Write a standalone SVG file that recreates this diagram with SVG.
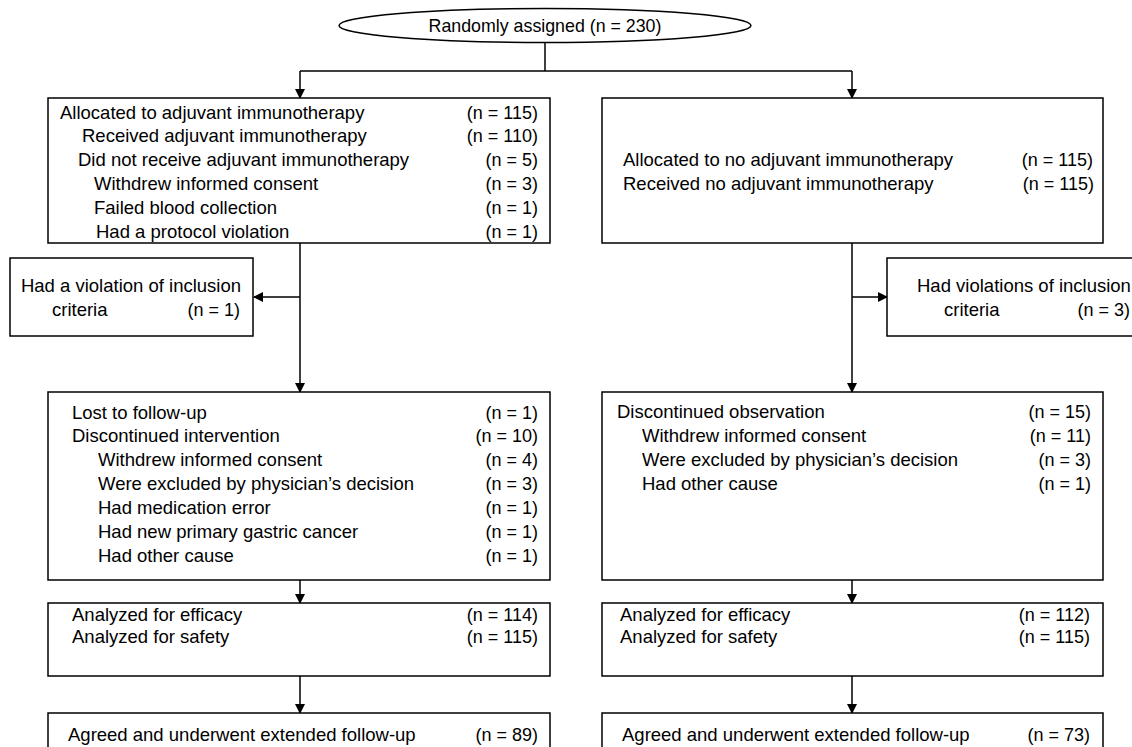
<svg xmlns="http://www.w3.org/2000/svg" width="1132" height="747" viewBox="0 0 1132 747">
<style>
.b{fill:#fff;stroke:#000;stroke-width:1.5}
.c{fill:none;stroke:#000;stroke-width:1.5}
text{font-family:"Liberation Sans",Arial,sans-serif;font-size:18.5px;fill:#000}
.r{text-anchor:end;font-size:18px}
.m{text-anchor:middle}
.e{font-size:17.8px}
</style>
<defs>
<marker id="ah" markerWidth="10" markerHeight="10" refX="9" refY="5" orient="auto" markerUnits="userSpaceOnUse">
<path d="M0,0 L10,5 L0,10 z" fill="#000"/>
</marker>
</defs>
<rect width="1132" height="747" fill="#fff"/>
<g id="connectors">
<line class="c" x1="545" y1="42" x2="545" y2="71"/>
<line class="c" x1="300" y1="71" x2="852" y2="71"/>
<line class="c" x1="300" y1="71" x2="300" y2="98" marker-end="url(#ah)"/>
<line class="c" x1="852" y1="71" x2="852" y2="98" marker-end="url(#ah)"/>
<line class="c" x1="300" y1="243" x2="300" y2="392" marker-end="url(#ah)"/>
<line class="c" x1="300" y1="297" x2="254" y2="297" marker-end="url(#ah)"/>
<line class="c" x1="852" y1="243" x2="852" y2="392" marker-end="url(#ah)"/>
<line class="c" x1="852" y1="297" x2="887" y2="297" marker-end="url(#ah)"/>
<line class="c" x1="300" y1="580" x2="300" y2="603" marker-end="url(#ah)"/>
<line class="c" x1="852" y1="580" x2="852" y2="603" marker-end="url(#ah)"/>
<line class="c" x1="300" y1="676" x2="300" y2="713" marker-end="url(#ah)"/>
<line class="c" x1="852" y1="676" x2="852" y2="713" marker-end="url(#ah)"/>
</g>
<g id="randomized">
<ellipse class="b" cx="545" cy="25.5" rx="206" ry="17"/>
<text class="m e" x="545" y="32">Randomly assigned (n = 230)</text>
</g>
<g id="left-allocation">
<rect class="b" x="48" y="98" width="502" height="145"/>
<text x="60" y="119">Allocated to adjuvant immunotherapy</text><text class="r" x="538" y="119">(n = 115)</text>
<text x="82" y="142">Received adjuvant immunotherapy</text><text class="r" x="538" y="142">(n = 110)</text>
<text x="78" y="166">Did not receive adjuvant immunotherapy</text><text class="r" x="538" y="166">(n = 5)</text>
<text x="94" y="190">Withdrew informed consent</text><text class="r" x="538" y="190">(n = 3)</text>
<text x="94" y="214">Failed blood collection</text><text class="r" x="538" y="214">(n = 1)</text>
<text x="96" y="238">Had a protocol violation</text><text class="r" x="538" y="238">(n = 1)</text>
</g>
<g id="right-allocation">
<rect class="b" x="602" y="98" width="501" height="145"/>
<text x="623" y="166">Allocated to no adjuvant immunotherapy</text><text class="r" x="1093" y="166">(n = 115)</text>
<text x="623" y="190">Received no adjuvant immunotherapy</text><text class="r" x="1094" y="190">(n = 115)</text>
</g>
<g id="left-exclusion">
<rect class="b" x="10" y="258" width="243" height="78"/>
<text class="m" x="131" y="292">Had a violation of inclusion</text>
<text x="52" y="316">criteria</text><text class="r" x="240" y="316">(n = 1)</text>
</g>
<g id="right-exclusion">
<rect class="b" x="887" y="258" width="260" height="78"/>
<text x="917" y="292">Had violations of inclusion</text>
<text x="944" y="316">criteria</text><text class="r" x="1130" y="316">(n = 3)</text>
</g>
<g id="left-followup">
<rect class="b" x="48" y="392" width="502" height="188"/>
<text x="72" y="419">Lost to follow-up</text><text class="r" x="538" y="419">(n = 1)</text>
<text x="72" y="442">Discontinued intervention</text><text class="r" x="538" y="442">(n = 10)</text>
<text x="98" y="466">Withdrew informed consent</text><text class="r" x="538" y="466">(n = 4)</text>
<text x="98" y="490">Were excluded by physician’s decision</text><text class="r" x="538" y="490">(n = 3)</text>
<text x="98" y="514">Had medication error</text><text class="r" x="538" y="514">(n = 1)</text>
<text x="98" y="538">Had new primary gastric cancer</text><text class="r" x="538" y="538">(n = 1)</text>
<text x="98" y="562">Had other cause</text><text class="r" x="538" y="562">(n = 1)</text>
</g>
<g id="right-followup">
<rect class="b" x="602" y="392" width="501" height="188"/>
<text x="617" y="418">Discontinued observation</text><text class="r" x="1091" y="418">(n = 15)</text>
<text x="642" y="442">Withdrew informed consent</text><text class="r" x="1091" y="442">(n = 11)</text>
<text x="642" y="466">Were excluded by physician’s decision</text><text class="r" x="1091" y="466">(n = 3)</text>
<text x="642" y="490">Had other cause</text><text class="r" x="1091" y="490">(n = 1)</text>
</g>
<g id="left-analysis">
<rect class="b" x="48" y="603" width="502" height="73"/>
<text x="72" y="621">Analyzed for efficacy</text><text class="r" x="538" y="621">(n = 114)</text>
<text x="72" y="643">Analyzed for safety</text><text class="r" x="538" y="643">(n = 115)</text>
</g>
<g id="right-analysis">
<rect class="b" x="602" y="603" width="501" height="73"/>
<text x="620" y="621">Analyzed for efficacy</text><text class="r" x="1090" y="621">(n = 112)</text>
<text x="620" y="643">Analyzed for safety</text><text class="r" x="1090" y="643">(n = 115)</text>
</g>
<g id="left-extended">
<rect class="b" x="48" y="713" width="502" height="60"/>
<text x="68" y="741">Agreed and underwent extended follow-up</text><text class="r" x="538" y="741">(n = 89)</text>
</g>
<g id="right-extended">
<rect class="b" x="602" y="713" width="501" height="60"/>
<text x="622" y="741">Agreed and underwent extended follow-up</text><text class="r" x="1090" y="741">(n = 73)</text>
</g>
</svg>
